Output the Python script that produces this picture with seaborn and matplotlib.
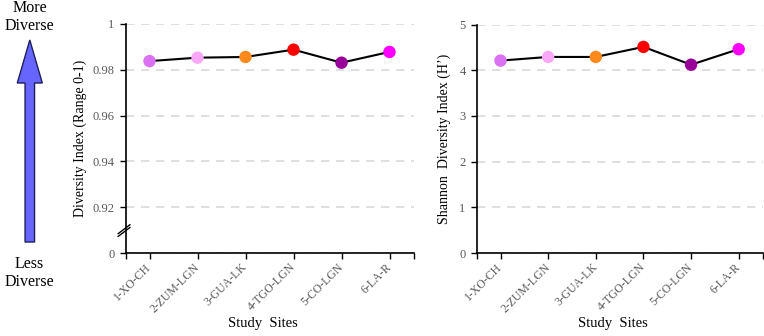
import numpy as np
import pandas as pd
import matplotlib
matplotlib.use("Agg")
import matplotlib.pyplot as plt
import seaborn as sns
from matplotlib.patches import FancyArrow

sites = ["1-XO-CH", "2-ZUM-LGN", "3-GUA-LK", "4-TGO-LGN", "5-CO-LGN", "6-LA-R"]
simpson = [0.9838, 0.9853, 0.9856, 0.9888, 0.9831, 0.9878]
shannon = [4.21, 4.29, 4.29, 4.51, 4.12, 4.46]
site_colors = ["#DA70F2", "#F8A8F6", "#FF8A1C", "#FF0000", "#990099", "#FF00FF"]
left_ticks = [0, 0.92, 0.94, 0.96, 0.98, 1.0]
left_ticklabels = ["0", "0.92", "0.94", "0.96", "0.98", "1"]
right_ticks = [0, 1, 2, 3, 4, 5]

sns.set_theme(style="white")
plt.rcParams["font.family"] = ["Liberation Serif", "DejaVu Serif"]

df_l = pd.DataFrame({"site": sites, "val": simpson})
df_r = pd.DataFrame({"site": sites, "val": shannon})
palette = dict(zip(sites, site_colors))

W, H = 764, 336
fig = plt.figure(figsize=(W / 100, H / 100), dpi=100)

def px_rect(x0, x1, ytop, ybot):
    return [x0 / W, 1 - ybot / H, (x1 - x0) / W, (ybot - ytop) / H]

ax1 = fig.add_axes(px_rect(125.5, 413.5, 24, 253))
ax2 = fig.add_axes(px_rect(476.7, 762.5, 24.5, 253))

def fwd(v):
    return np.interp(v, [0, 0.91, 1.0], [0, 0.5, 5.0])

def inv(y):
    return np.interp(y, [0, 0.5, 5.0], [0, 0.91, 1.0])

ax1.set_yscale("function", functions=(fwd, inv))

tick_gray = "#595959"
for ax, df in ((ax1, df_l), (ax2, df_r)):
    sns.lineplot(data=df, x="site", y="val", color="black", lw=1.5, sort=False, ax=ax, zorder=2)
    sns.scatterplot(data=df, x="site", y="val", hue="site", palette=palette, s=80,
                    linewidth=0, legend=False, ax=ax, zorder=3)
    ax.set_xlim(-0.5, 5.5)
    ax.set_xticks([-0.5, 0, 1, 2, 3, 4, 5, 5.5])
    ax.set_xticklabels([""] + sites + [""], rotation=45, ha="right",
                       rotation_mode="anchor", va="center", color=tick_gray, fontsize=8.5)
    ax.tick_params(axis="x", direction="out", length=4, width=1, color="black", pad=5, bottom=True)
    ax.tick_params(axis="y", direction="out", length=4, width=1, color="black", pad=4,
                   left=True, labelsize=9, labelcolor=tick_gray)
    for s in ("top", "right"):
        ax.spines[s].set_visible(False)
    for s in ("left", "bottom"):
        ax.spines[s].set_color("black")
        ax.spines[s].set_linewidth(1.2)
    ax.yaxis.grid(True, color="#D9D9D9", linestyle=(0, (5, 4)), linewidth=1.2)
    ax.set_axisbelow(True)
    ax.set_xlabel("Study  Sites", fontsize=10.5, color="black")
    ax.xaxis.set_label_coords(0.478, -0.28)

ax1.set_ylim(0, 1.0)
ax1.set_yticks(left_ticks)
ax1.set_yticklabels(left_ticklabels)
ax1.minorticks_off()
ax1.set_ylabel("Diversity Index (Range 0-1)", fontsize=10, color="black")
ax1.yaxis.set_label_coords(-0.135, 0.5)

ax2.set_ylim(0, 5)
ax2.set_yticks(right_ticks)
ax2.set_ylabel("Shannon  Diversity Index (H\u2019)", fontsize=10, color="black")
ax2.yaxis.set_label_coords(-0.09, 0.5)

# axis break marks
for dy in (0.0, 0.012):
    ax1.plot([-0.026, 0.016], [0.072 + dy, 0.112 + dy], transform=ax1.transAxes,
             color="black", lw=1.0, clip_on=False, zorder=5)

# left arrow annotation
axa = fig.add_axes([0, 0, 1, 1], zorder=-1)
axa.set_xlim(0, W)
axa.set_ylim(H, 0)
axa.axis("off")
axa.add_patch(FancyArrow(29.8, 242, 0, -202, width=9.5, head_width=25, head_length=43,
                         length_includes_head=True, fc="#6666FF", ec="#1F1F5F", lw=1.0))
axa.text(29.5, 17, "More\nDiverse", ha="center", va="center", fontsize=11.5,
         linespacing=1.25, color="black")
axa.text(29.5, 273, "Less\nDiverse", ha="center", va="center", fontsize=11.5,
         linespacing=1.25, color="black")

fig.savefig("out.png", dpi=100)
